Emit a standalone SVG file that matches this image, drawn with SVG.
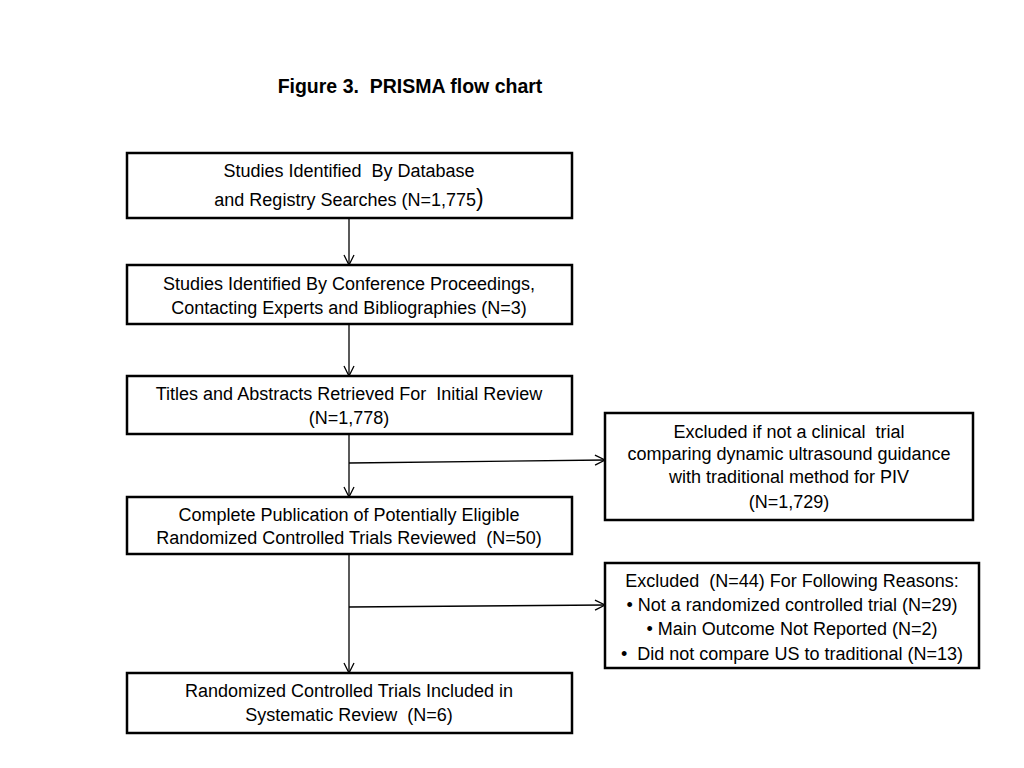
<svg xmlns="http://www.w3.org/2000/svg" width="1024" height="768" viewBox="0 0 1024 768">
<defs>
<style>
.box{fill:#fff;stroke:#000;stroke-width:2.5}
text{white-space:pre}
.t{font-family:"Liberation Sans",Arial,sans-serif;font-size:18px;fill:#000;text-anchor:middle}
.title{font-family:"Liberation Sans",Arial,sans-serif;font-size:19.5px;font-weight:bold;fill:#000;text-anchor:middle}
.c{stroke:#000;stroke-width:1.3;fill:none}
</style>
<marker id="arr" viewBox="0 0 12 12" refX="11" refY="6" markerWidth="12" markerHeight="12" markerUnits="userSpaceOnUse" orient="auto">
<path d="M1,1 L11,6 L1,11" fill="none" stroke="#000" stroke-width="1.3"/>
</marker>
</defs>
<rect width="1024" height="768" fill="#fff"/>
<text class="title" x="410" y="93" xml:space="preserve">Figure 3.  PRISMA flow chart</text>
<g id="connectors">
<line class="c" x1="349" y1="218" x2="349" y2="265" marker-end="url(#arr)"/>
<line class="c" x1="349" y1="324" x2="349" y2="376" marker-end="url(#arr)"/>
<line class="c" x1="349" y1="434" x2="349" y2="497" marker-end="url(#arr)"/>
<line class="c" x1="349" y1="463" x2="605" y2="460" marker-end="url(#arr)"/>
<line class="c" x1="349" y1="554" x2="349" y2="673" marker-end="url(#arr)"/>
<line class="c" x1="349" y1="607" x2="605" y2="605" marker-end="url(#arr)"/>
</g>
<g id="n1">
<rect class="box" x="127" y="153" width="445" height="65"/>
<text class="t" x="349" y="177" xml:space="preserve">Studies Identified  By Database</text>
<text class="t" x="349" y="206">and Registry Searches (N=1,775<tspan font-size="23px">)</tspan></text>
</g>
<g id="n2">
<rect class="box" x="127" y="265" width="445" height="59"/>
<text class="t" x="349" y="290">Studies Identified By Conference Proceedings,</text>
<text class="t" x="349" y="314">Contacting Experts and Bibliographies (N=3)</text>
</g>
<g id="n3">
<rect class="box" x="127" y="376" width="445" height="58"/>
<text class="t" x="349" y="400" xml:space="preserve">Titles and Abstracts Retrieved For  Initial Review</text>
<text class="t" x="349" y="424">(N=1,778)</text>
</g>
<g id="n4">
<rect class="box" x="127" y="497" width="445" height="57"/>
<text class="t" x="349" y="521">Complete Publication of Potentially Eligible</text>
<text class="t" x="349" y="544" xml:space="preserve">Randomized Controlled Trials Reviewed  (N=50)</text>
</g>
<g id="n5">
<rect class="box" x="127" y="673" width="445" height="60"/>
<text class="t" x="349" y="697">Randomized Controlled Trials Included in</text>
<text class="t" x="349" y="721" xml:space="preserve">Systematic Review  (N=6)</text>
</g>
<g id="n6">
<rect class="box" x="605" y="413" width="368" height="107"/>
<text class="t" x="789" y="438" xml:space="preserve">Excluded if not a clinical  trial</text>
<text class="t" x="789" y="460">comparing dynamic ultrasound guidance</text>
<text class="t" x="789" y="483">with traditional method for PIV</text>
<text class="t" x="789" y="508">(N=1,729)</text>
</g>
<g id="n7">
<rect class="box" x="605" y="563" width="374" height="105"/>
<text class="t" x="792" y="587" xml:space="preserve">Excluded  (N=44) For Following Reasons:</text>
<text class="t" x="792" y="611">• Not a randomized controlled trial (N=29)</text>
<text class="t" x="792" y="635">• Main Outcome Not Reported (N=2)</text>
<text class="t" x="792" y="660" xml:space="preserve">•  Did not compare US to traditional (N=13)</text>
</g>
</svg>
